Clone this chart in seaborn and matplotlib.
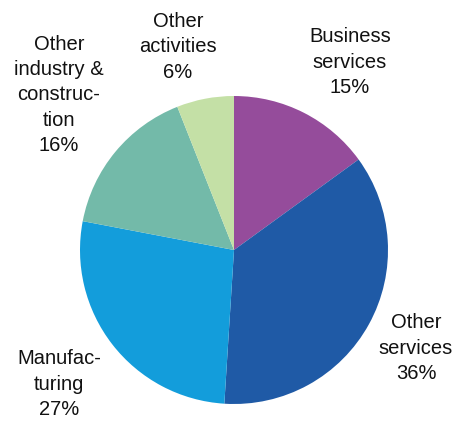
import matplotlib
matplotlib.use("Agg")
import matplotlib.pyplot as plt
import seaborn as sns

sns.set_theme(style="white")
plt.rcParams['font.family'] = ['Liberation Sans', 'DejaVu Sans']

categories = ["Business\nservices", "Other\nservices", "Manufac-\nturing",
              "Other\nindustry &\nconstruc-\ntion", "Other\nactivities"]
values = [15, 36, 27, 16, 6]
colors = ["#954C9B", "#1F5AA6", "#139DDB", "#73BAA9", "#C4E0A6"]
# label centre positions in pixels (x, y from top)
label_pos = [(350, 62), (416, 348), (59, 384), (59, 95), (178, 47)]

W, H = 457, 421
fig = plt.figure(figsize=(W / 100, H / 100), dpi=100)
cx, cy, r = 234, 250, 154
ax = fig.add_axes([(cx - r) / W, (H - cy - r) / H, 2 * r / W, 2 * r / H])
ax.pie(values, colors=colors, startangle=90, counterclock=False,
       radius=1, wedgeprops=dict(linewidth=0))
ax.set_xlim(-1, 1)
ax.set_ylim(-1, 1)
ax.axis("off")

for cat, val, (px, py) in zip(categories, values, label_pos):
    fig.text(px / W, 1 - py / H, f"{cat}\n{val}%", ha="center", va="center",
             multialignment="center", fontsize=14.5, linespacing=1.42,
             color="#111111")

fig.savefig("out.png", dpi=100)
